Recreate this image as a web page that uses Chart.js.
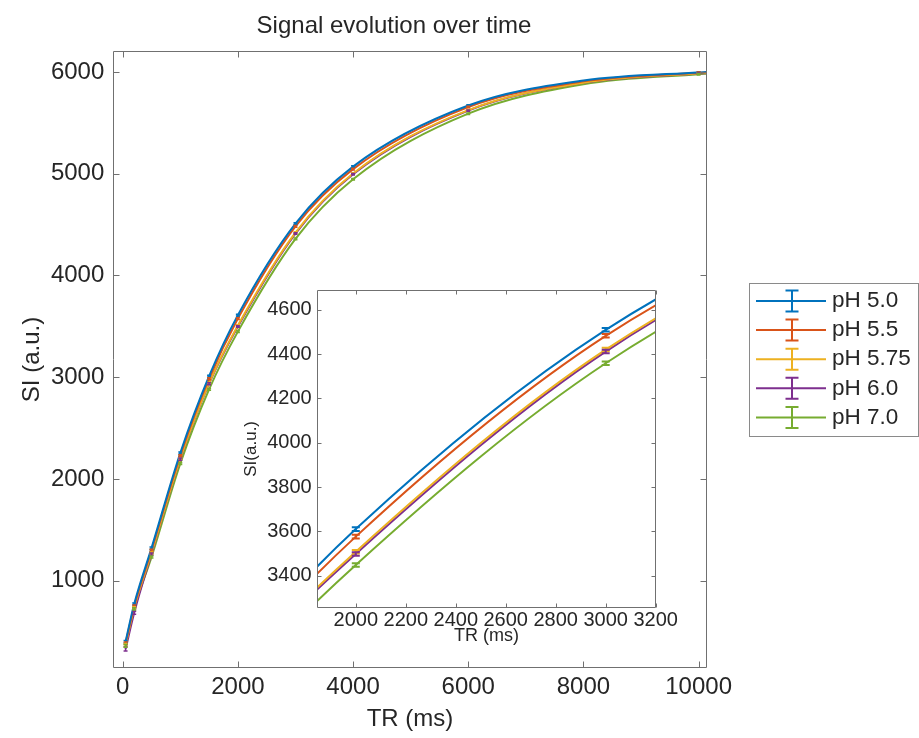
<!DOCTYPE html>
<html>
<head>
<meta charset="utf-8">
<script src="https://cdn.jsdelivr.net/npm/chart.js@4.4.1/dist/chart.umd.min.js"></script>
<style>
  html, body { margin: 0; padding: 0; background: #fff; }
  #wrap { position: relative; width: 919px; height: 738px; }
  #main { position: absolute; left: 0; top: 0; }
  #inset { position: absolute; left: 230px; top: 280px; }
</style>
</head>
<body>
<div id="wrap">
  <canvas id="main" width="919" height="738"></canvas>
  <canvas id="inset" width="460" height="367"></canvas>
</div>
<script>
// TR positions where the curves were read (ms)
const curveTR = [50, 200, 500, 1000, 1500, 2000, 3000, 4000, 6000, 8000, 10000, 10140];
// TR values of the measured points with error bars (ms)
const markTR = [50, 200, 500, 1000, 1500, 2000, 3000, 4000, 6000, 10000];

const seriesLabels = ['pH 5.0', 'pH 5.5', 'pH 5.75', 'pH 6.0', 'pH 7.0'];
const seriesColors = ['#0072BD', '#D95319', '#EDB120', '#7E2F8E', '#77AC30'];

// signal intensity (a.u.) at curveTR
const siPH50  = [400, 770, 1320, 2255, 3010, 3610, 4510, 5070, 5670, 5915, 5995, 5999];
const siPH55  = [385, 750, 1300, 2230, 2985, 3576, 4483, 5045, 5655, 5908, 5992, 5996];
const siPH575 = [368, 732, 1272, 2200, 2942, 3508, 4421, 5002, 5625, 5895, 5986, 5990];
const siPH60  = [328, 685, 1262, 2195, 2936, 3498, 4412, 4995, 5620, 5893, 5985, 5990];
const siPH70  = [360, 722, 1232, 2150, 2880, 3448, 4359, 4945, 5590, 5880, 5978, 5983];

// error bar half-heights (a.u.) at markTR
const errPH50  = [12, 10, 10, 9, 9, 8, 8, 8, 7, 7];
const errPH55  = [12, 10, 10, 9, 9, 8, 8, 8, 7, 7];
const errPH575 = [14, 11, 10, 9, 9, 8, 8, 8, 7, 7];
const errPH60  = [20, 14, 11, 10, 9, 8, 8, 8, 7, 7];
const errPH70  = [14, 11, 10, 9, 9, 8, 8, 8, 7, 7];

// tick values
const mainTicksX = [0, 2000, 4000, 6000, 8000, 10000];
const mainTicksY = [1000, 2000, 3000, 4000, 5000, 6000];
const insetTicksX = [2000, 2200, 2400, 2600, 2800, 3000, 3200];
const insetTicksY = [3400, 3600, 3800, 4000, 4200, 4400, 4600];

const FONT = '"Liberation Sans", Arial, Helvetica, sans-serif';
const TEXT = '#262626';
const AXIS = '#707070';

const allSI = [siPH50, siPH55, siPH575, siPH60, siPH70];
const allErr = [errPH50, errPH55, errPH575, errPH60, errPH70];

function makeDatasets(width) {
  return seriesLabels.map((label, i) => ({
    label: label,
    data: curveTR.map((tr, j) => ({ x: tr, y: allSI[i][j] })),
    markers: markTR.map((tr, j) => ({ x: tr, y: allSI[i][curveTR.indexOf(tr)], e: allErr[i][j] })),
    borderColor: seriesColors[i],
    backgroundColor: seriesColors[i],
    borderWidth: width,
    pointRadius: 0,
    cubicInterpolationMode: 'monotone',
    fill: false
  }));
}

const fixedTicks = values => scale => { scale.ticks = values.map(v => ({ value: v })); };

// fixed axis size, no extra label padding pushed onto the chart area
const fitX = h => s => { s.height = h; s.paddingLeft = 0; s.paddingRight = 0; };
const fitY = w => s => { s.width = w; s.paddingTop = 0; s.paddingBottom = 0; };

// MATLAB-like box with inward ticks on all four sides
const boxTicks = {
  id: 'boxTicks',
  afterDraw(chart, args, o) {
    const { ctx, chartArea: a, scales } = chart;
    const L = Math.round(a.left) + 0.5, R = Math.round(a.right) - 0.5;
    const T = Math.round(a.top) + 0.5, B = Math.round(a.bottom) - 0.5;
    ctx.save();
    ctx.strokeStyle = o.color;
    ctx.lineWidth = 1;
    ctx.beginPath();
    ctx.rect(L, T, R - L, B - T);
    scales.x.ticks.forEach(t => {
      const px = Math.round(scales.x.getPixelForValue(t.value)) + 0.5;
      ctx.moveTo(px, B); ctx.lineTo(px, B - o.len);
      ctx.moveTo(px, T); ctx.lineTo(px, T + o.len);
    });
    scales.y.ticks.forEach(t => {
      const py = Math.round(scales.y.getPixelForValue(t.value)) + 0.5;
      ctx.moveTo(L, py); ctx.lineTo(L + o.len, py);
      ctx.moveTo(R, py); ctx.lineTo(R - o.len, py);
    });
    ctx.stroke();
    ctx.restore();
  }
};

const errorBars = {
  id: 'errorBars',
  afterDatasetsDraw(chart, args, o) {
    const { ctx, chartArea: a, scales: { x, y } } = chart;
    ctx.save();
    ctx.beginPath();
    ctx.rect(a.left, a.top, a.width, a.height);
    ctx.clip();
    chart.data.datasets.forEach(ds => {
      ctx.strokeStyle = ds.borderColor;
      ctx.lineWidth = o.lineWidth;
      ds.markers.forEach(p => {
        const px = x.getPixelForValue(p.x);
        if (px < a.left - 2 || px > a.right + 2) return;
        const top = y.getPixelForValue(p.y + p.e);
        const bot = y.getPixelForValue(p.y - p.e);
        const w = o.capWidth / 2;
        ctx.beginPath();
        ctx.moveTo(px, top); ctx.lineTo(px, bot);
        ctx.moveTo(px - w, top); ctx.lineTo(px + w, top);
        ctx.moveTo(px - w, bot); ctx.lineTo(px + w, bot);
        ctx.stroke();
      });
    });
    ctx.restore();
  }
};

const whiteArea = {
  id: 'whiteArea',
  beforeDraw(chart) {
    const { ctx, chartArea: a } = chart;
    ctx.save();
    ctx.fillStyle = '#fff';
    ctx.fillRect(a.left, a.top, a.width, a.height);
    ctx.restore();
  }
};

const plotTitle = {
  id: 'plotTitle',
  afterDraw(chart, args, o) {
    const ctx = chart.ctx;
    ctx.save();
    ctx.font = o.font;
    ctx.fillStyle = o.color;
    ctx.textAlign = 'center';
    ctx.textBaseline = 'alphabetic';
    ctx.fillText(o.text, o.x, o.y);
    ctx.restore();
  }
};

// legend with errorbar glyphs, outside the plot on the right
const sideLegend = {
  id: 'sideLegend',
  afterDraw(chart, args, o) {
    const ctx = chart.ctx;
    ctx.save();
    ctx.fillStyle = '#fff';
    ctx.fillRect(o.left, o.top, o.width, o.height);
    ctx.strokeStyle = o.borderColor;
    ctx.lineWidth = 1;
    ctx.strokeRect(o.left + 0.5, o.top + 0.5, o.width, o.height);
    ctx.font = o.font;
    ctx.textBaseline = 'middle';
    ctx.textAlign = 'left';
    chart.data.datasets.forEach((ds, i) => {
      const y = o.top + o.firstRow + i * o.rowGap;
      const cx = o.left + 43;
      ctx.strokeStyle = ds.borderColor;
      ctx.lineWidth = 2;
      ctx.beginPath();
      ctx.moveTo(o.left + 7, y); ctx.lineTo(o.left + 77, y);
      ctx.moveTo(cx, y - 10.5); ctx.lineTo(cx, y + 10.5);
      ctx.moveTo(cx - 6.5, y - 10.5); ctx.lineTo(cx + 6.5, y - 10.5);
      ctx.moveTo(cx - 6.5, y + 10.5); ctx.lineTo(cx + 6.5, y + 10.5);
      ctx.stroke();
      ctx.fillStyle = o.color;
      ctx.fillText(ds.label, o.left + 83, y);
    });
    ctx.restore();
  }
};

new Chart(document.getElementById('main'), {
  type: 'line',
  data: { datasets: makeDatasets(2) },
  options: {
    responsive: false,
    animation: false,
    events: [],
    layout: { padding: { left: 0, right: 212.3, top: 50.7, bottom: 0 } },
    plugins: {
      legend: { display: false },
      tooltip: { enabled: false },
      title: { display: false },
      plotTitle: { text: 'Signal evolution over time', font: '24px ' + FONT, color: TEXT, x: 394, y: 33 },
      boxTicks: { color: AXIS, len: 6 },
      errorBars: { capWidth: 4, lineWidth: 1.5 },
      sideLegend: {
        left: 749, top: 283, width: 169, height: 153, firstRow: 18, rowGap: 29.1,
        font: '22.5px ' + FONT, color: TEXT, borderColor: '#8a8a8a'
      }
    },
    scales: {
      x: {
        type: 'linear',
        min: -163, max: 10140,
        afterBuildTicks: fixedTicks(mainTicksX),
        afterFit: fitX(69.7),
        grid: { display: false, drawTicks: false },
        border: { display: false },
        ticks: { padding: 5, maxRotation: 0, autoSkip: false, callback: v => String(v),
                 color: TEXT, font: { family: FONT, size: 24 } },
        title: { display: true, text: 'TR (ms)', color: TEXT,
                 font: { family: FONT, size: 24 }, padding: { top: 0, bottom: 4.6 } }
      },
      y: {
        type: 'linear',
        min: 139, max: 6209,
        afterBuildTicks: fixedTicks(mainTicksY),
        afterFit: fitY(113.3),
        grid: { display: false, drawTicks: false },
        border: { display: false },
        ticks: { padding: 9, autoSkip: false, callback: v => String(v),
                 color: TEXT, font: { family: FONT, size: 24 } },
        title: { display: true, text: 'SI (a.u.)', color: TEXT,
                 font: { family: FONT, size: 24 }, padding: { top: 17.6, bottom: 0 } }
      }
    }
  },
  plugins: [plotTitle, errorBars, boxTicks, sideLegend]
});

new Chart(document.getElementById('inset'), {
  type: 'line',
  data: { datasets: makeDatasets(2) },
  options: {
    responsive: false,
    animation: false,
    events: [],
    layout: { padding: { left: 0, right: 34.3, top: 10, bottom: 0 } },
    plugins: {
      legend: { display: false },
      tooltip: { enabled: false },
      title: { display: false },
      boxTicks: { color: AXIS, len: 4 },
      errorBars: { capWidth: 8, lineWidth: 2 }
    },
    scales: {
      x: {
        type: 'linear',
        min: 1846, max: 3200,
        afterBuildTicks: fixedTicks(insetTicksX),
        afterFit: fitX(39.3),
        grid: { display: false, drawTicks: false },
        border: { display: false },
        ticks: { padding: 1, maxRotation: 0, autoSkip: false, callback: v => String(v),
                 color: TEXT, font: { family: FONT, size: 20 } },
        title: { display: true, text: 'TR (ms)', color: TEXT,
                 font: { family: FONT, size: 18 }, padding: { top: 0, bottom: 0 } }
      },
      y: {
        type: 'linear',
        min: 3255, max: 4690,
        afterBuildTicks: fixedTicks(insetTicksY),
        afterFit: fitY(87.3),
        grid: { display: false, drawTicks: false },
        border: { display: false },
        ticks: { padding: 5.6, autoSkip: false, callback: v => String(v),
                 color: TEXT, font: { family: FONT, size: 20 } },
        title: { display: true, text: 'SI(a.u.)', color: TEXT,
                 font: { family: FONT, size: 17 }, padding: { top: 10.8, bottom: 0 } }
      }
    }
  },
  plugins: [whiteArea, errorBars, boxTicks]
});
</script>
</body>
</html>
